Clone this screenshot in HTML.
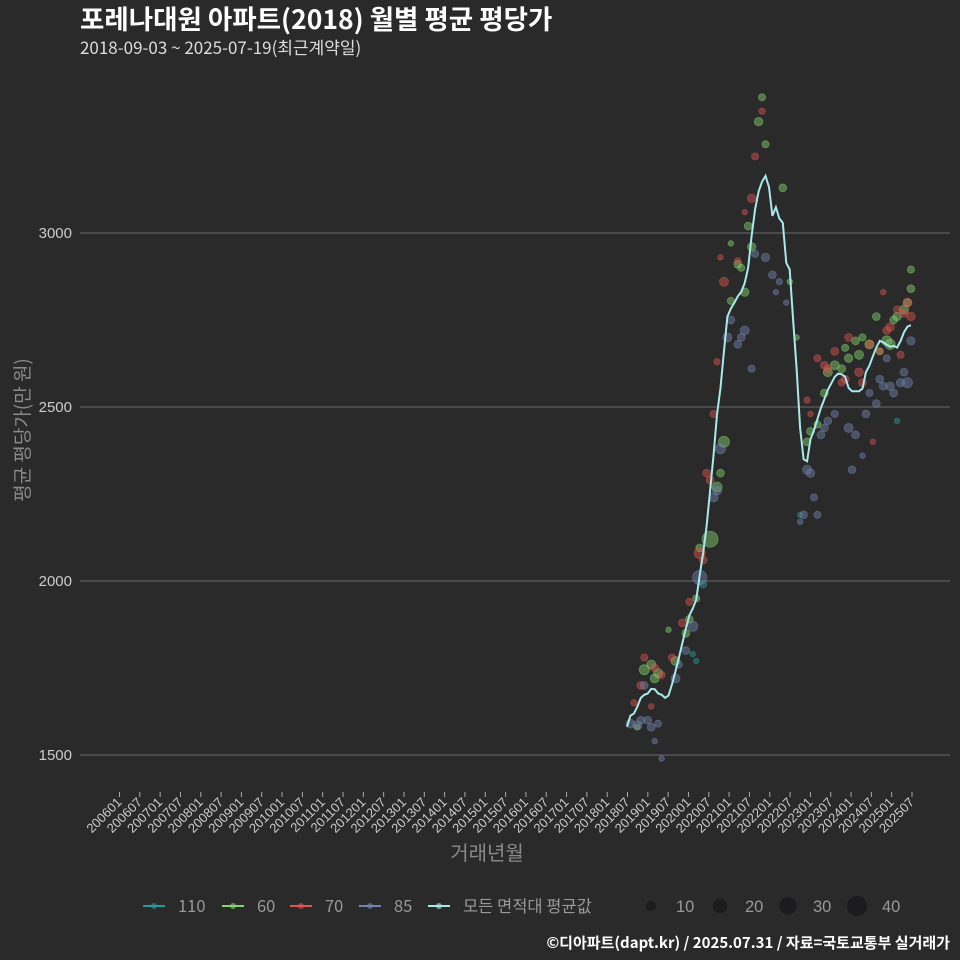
<!DOCTYPE html>
<html><head><meta charset="utf-8"><style>
html,body{margin:0;padding:0;background:#2b2a2b;}
svg{display:block;font-family:"Liberation Sans","Noto Sans CJK KR",sans-serif;}
.kr{font-family:"Noto Sans CJK KR","Liberation Sans",sans-serif;}
#ytitle{position:absolute;left:22px;top:430px;width:240px;height:24px;margin-left:-120px;margin-top:-12px;line-height:24px;text-align:center;transform:rotate(-90deg);color:#8a8a8a;font-size:19px;font-family:"Noto Sans CJK KR","Liberation Sans",sans-serif;white-space:nowrap;}
</style></head><body>
<div style="position:relative;width:960px;height:960px;">
<svg id="chart" width="960" height="960" viewBox="0 0 960 960" xmlns="http://www.w3.org/2000/svg">
<rect width="960" height="960" fill="#2b2a2b"/>
<text class="kr" x="80" y="29" fill="#ffffff" font-size="26.5" font-weight="bold">포레나대원 아파트(2018) 월별 평균 평당가</text>
<text class="kr" x="80" y="54" fill="#dddddd" font-size="17">2018-09-03 ~ 2025-07-19(최근계약일)</text>
<g id="grid"></g>
<g id="xaxis"></g>
<g id="points"></g>
<path id="avgline" fill="none" stroke="#a8eaea" stroke-width="2"/>
<text class="kr" x="487" y="860" fill="#8a8a8a" font-size="20" text-anchor="middle">거래년월</text>
<g id="legend"></g>
<text class="kr" x="950" y="948" fill="#ffffff" font-size="15" font-weight="bold" text-anchor="end">©디아파트(dapt.kr) / 2025.07.31 / 자료=국토교통부 실거래가</text>
</svg>
<div id="ytitle">평균 평당가(만 원)</div>
</div>
<script>
const yTicks=[1500,2000,2500,3000];
const xTickLabels=[];
for(let y=2006;y<=2025;y++){xTickLabels.push(y+'01');xTickLabels.push(y+'07');}
const avgStartMonth=152; // 2018-09 as months since 2006-01
const avgValues=[1581,1613,1619,1639,1664,1673,1677,1690,1689,1677,1673,1664,1671,1703,1741,1780,1822,1863,1901,1921,1946,2017,2081,2158,2260,2363,2478,2555,2658,2760,2783,2799,2818,2831,2856,2901,2991,3068,3119,3147,3164,3132,3049,3074,3042,3029,2914,2895,2747,2606,2440,2350,2344,2408,2433,2465,2497,2523,2549,2568,2587,2596,2594,2587,2555,2545,2545,2545,2553,2600,2619,2645,2671,2690,2686,2679,2673,2676,2671,2690,2715,2731,2735];
// [month offset from 2018-09, value, count]
const s60=[[3,1580,3],[5,1745,10],[7,1760,8],[8,1720,8],[9,1735,8],[14,1770,8],[12,1860,3],[17,1850,6],[18,1890,6],[20,1950,5],[21,2095,6],[24,2120,25],[26,2270,10],[27,2310,6],[28,2400,12],[30,2805,5],[30,2970,3],[32,2910,6],[33,2900,5],[34,2830,7],[36,2960,7],[35,3020,6],[38,3320,7],[39,3390,5],[40,3255,5],[45,3130,6],[47,2860,3],[49,2700,3],[52,2400,6],[53,2430,6],[55,2450,5],[57,2540,6],[58,2600,8],[60,2620,8],[62,2610,6],[64,2640,7],[63,2670,5],[66,2690,6],[67,2650,8],[68,2700,5],[70,2680,8],[72,2760,6],[73,2660,5],[75,2690,10],[76,2680,10],[77,2750,6],[78,2760,7],[80,2780,8],[82,2840,6],[81,2800,6],[82,2895,5]];
const s70=[[2,1650,4],[4,1700,6],[5,1780,5],[7,1640,3],[8,1750,6],[10,1730,5],[13,1780,5],[16,1880,6],[18,1940,5],[21,2080,12],[22,2060,6],[23,2310,6],[24,2290,6],[25,2480,5],[26,2630,4],[27,2930,3],[28,2860,8],[32,2920,4],[34,3060,3],[36,3100,7],[37,3220,5],[39,3350,4],[52,2520,4],[53,2480,3],[55,2640,5],[57,2620,6],[58,2610,6],[60,2660,6],[62,2570,5],[63,2580,6],[64,2700,6],[67,2600,7],[68,2570,6],[70,2680,6],[71,2400,3],[73,2660,4],[75,2720,6],[76,2730,7],[78,2780,5],[80,2770,7],[81,2800,8],[82,2760,7],[79,2650,5],[74,2830,3]];
const s85=[[1,1590,8],[3,1585,8],[4,1600,6],[6,1600,6],[7,1580,6],[9,1590,5],[8,1540,3],[10,1490,3],[5,1700,6],[14,1720,8],[15,1760,5],[17,1800,6],[19,1870,10],[21,2010,20],[25,2240,8],[26,2260,8],[27,2380,10],[29,2700,8],[30,2750,6],[32,2680,6],[33,2700,6],[34,2720,8],[36,2610,5],[37,2940,5],[40,2930,7],[42,2880,6],[43,2830,3],[44,2860,4],[46,2800,3],[51,2190,6],[52,2320,8],[53,2310,7],[54,2240,5],[55,2190,5],[50,2170,3],[56,2420,6],[57,2440,6],[58,2460,6],[60,2480,5],[64,2440,8],[65,2320,6],[66,2420,6],[68,2360,3],[69,2480,6],[70,2540,5],[72,2510,6],[73,2580,6],[74,2560,6],[76,2560,7],[77,2540,6],[79,2570,7],[80,2600,6],[81,2570,10],[82,2690,7],[75,2640,5]];
const s110=[[19,1790,3],[20,1770,3],[22,1990,5],[50,2190,3],[78,2460,3]];
const legendSizes=[10,20,30,40];

const NS='http://www.w3.org/2000/svg';
const X0=100.6, PXM=3.463;
function xScale(m){return X0+m*PXM;}
function yScale(v){return 233+(3000-v)*0.348;}
function rScale(n){return Math.sqrt(n)*1.6;}
function mk(tag,attrs,parent){const e=document.createElementNS(NS,tag);for(const k in attrs)e.setAttribute(k,attrs[k]);parent.appendChild(e);return e;}
const grid=document.getElementById('grid');
yTicks.forEach(v=>{
 const l=mk('line',{x1:80,x2:950,y1:yScale(v),y2:yScale(v),stroke:'#6a6a6a','stroke-width':1},grid);
 
 
 const t=mk('text',{x:72,y:yScale(v)+5,fill:'#cccccc','font-size':15,'text-anchor':'end'},grid);
 
 
 t.textContent=v;
});
const xa=document.getElementById('xaxis');
xTickLabels.forEach((lab,i)=>{
 const x=119.5+i*6*(792.5/234);
 const l=mk('line',{x1:x,x2:x,y1:792,y2:797,stroke:'#aaaaaa','stroke-width':1},xa);
 
 
 const t=mk('text',{transform:`translate(${x+3},${803}) rotate(-45)`,fill:'#cccccc','font-size':13,'text-anchor':'end'},xa);
 
 
 t.textContent=lab;
});
const pts=document.getElementById('points');
const series=[[s110,'#2a9a9a','110'],[s60,'#86d46e','60'],[s70,'#dd5550','70'],[s85,'#7486b0','85']];
series.forEach(([arr,col,name])=>{
 arr.forEach(p=>{
  const c=mk('circle',{cx:xScale(avgStartMonth+p[0]),cy:yScale(p[1]),r:rScale(p[2]),fill:col,'fill-opacity':0.45,stroke:col,'stroke-opacity':0.5,'stroke-width':0.8},pts);
  
  
 });
});
document.getElementById('avgline').setAttribute('d',avgValues.map((v,i)=>(i?'L':'M')+xScale(avgStartMonth+i).toFixed(1)+','+yScale(v).toFixed(1)).join(''));
const lg=document.getElementById('legend');
const lItems=[['110','#2a9a9a',143],['60','#86d46e',222],['70','#dd5550',290],['85','#7486b0',359],['모든 면적대 평균값','#a8eaea',428]];
lItems.forEach(([n,c,x])=>{
 const g=mk('g',{},lg);
 
 
 mk('line',{x1:x,x2:x+22,y1:906,y2:906,stroke:c,'stroke-width':2},g);
 mk('circle',{cx:x+11,cy:906,r:3,fill:c,'fill-opacity':0.6},g);
 const t=mk('text',{x:x+35,y:912,fill:'#999999','font-size':16.5,'class':'kr'},g);
 t.textContent=n;
});
const sx=[651,720,788,857];
legendSizes.forEach((s,i)=>{
 const g=mk('g',{},lg);
 
 
 mk('circle',{cx:sx[i],cy:906,r:rScale(s),fill:'#1c1c1e'},g);
 const t=mk('text',{x:sx[i]+25,y:912,fill:'#999999','font-size':16.5},g);
 t.textContent=s;
});
</script>
</body></html>
